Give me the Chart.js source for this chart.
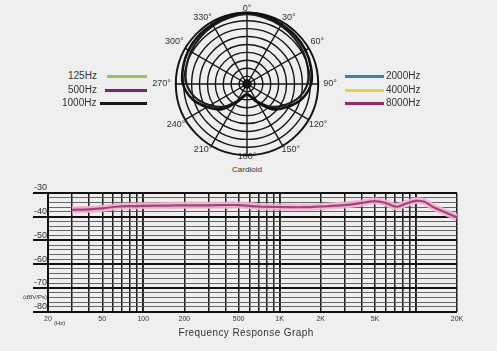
<!DOCTYPE html>
<html>
<head>
<meta charset="utf-8">
<script src="https://cdn.jsdelivr.net/npm/chart.js@4.4.0/dist/chart.umd.min.js"></script>
<style>
html, body { margin: 0; padding: 0; background: #efefef; }
#wrap { position: relative; width: 497px; height: 351px; overflow: hidden; font-family: "Liberation Sans", Arial, sans-serif; color: #333; }
#polarBox { position: absolute; left: 145px; top: 2px; width: 200px; height: 162px; }
#freqBox { position: absolute; left: 0; top: 180px; width: 497px; height: 171px; }
.txt { position: absolute; font-size: 10px; line-height: 12px; white-space: nowrap; }
.ln { position: absolute; height: 3px; }
</style>
</head>
<body>
<div id="wrap">
  <div id="polarBox"><canvas id="polar" width="200" height="162"></canvas></div>
  <div id="freqBox"><canvas id="freq" width="497" height="171"></canvas></div>

  <!-- legenda kiri -->
  <div class="txt" style="left:68px;top:70px;">125Hz</div>
  <div class="ln" style="left:107px;top:75px;width:40px;background:#93c662;box-shadow:0 0 2px #dff5c8;"></div>
  <div class="txt" style="left:68px;top:84px;">500Hz</div>
  <div class="ln" style="left:105px;top:89px;width:42px;background:#6b2f67;box-shadow:0 0 2px #f4c8ee;"></div>
  <div class="txt" style="left:62px;top:97px;">1000Hz</div>
  <div class="ln" style="left:100px;top:102px;width:47px;background:#1c1417;"></div>

  <!-- legenda kanan -->
  <div class="ln" style="left:345px;top:75px;width:39px;background:#3b8696;box-shadow:0 0 2px #c6f3fb;"></div>
  <div class="txt" style="left:386px;top:70px;">2000Hz</div>
  <div class="ln" style="left:345px;top:89px;width:39px;background:#e4cf63;box-shadow:0 0 2px #fbf1c4;"></div>
  <div class="txt" style="left:386px;top:84px;">4000Hz</div>
  <div class="ln" style="left:345px;top:102px;width:39px;background:#8e2f66;box-shadow:0 0 2px #f8c7e3;"></div>
  <div class="txt" style="left:386px;top:97px;">8000Hz</div>

  <div class="txt" style="left:227px;top:164px;font-size:8px;width:40px;text-align:center;">Cardioid</div>
  <div class="txt" style="left:54px;top:317px;font-size:6px;">(Hz)</div>
  <div class="txt" style="left:146px;top:327px;width:200px;text-align:center;letter-spacing:0.4px;">Frequency Response Graph</div>
</div>

<script>
// ==========================================
// DATA POLAR (derajat, dB)
// ==========================================

const polarAngles = [0,15,30,45,60,75,90,105,120,135,150,165,180,195,210,225,240,255,270,285,300,315,330,345];

const pattern1000 = [0,-0.5,-1.4,-1.8,-2.3,-3.2,-4.5,-9,-15.8,-22.5,-31.5,-36.9,-38.3,-36.9,-31.5,-22.5,-15.8,-9,-4.5,-3.2,-2.3,-1.8,-1.4,-0.5];

const pattern500 = [-0.9,-1.6,-2.3,-3.2,-4.1,-5.2,-6.8,-11.3,-18,-24.8,-32.4,-37.4,-38.7,-37.4,-32.4,-24.8,-18,-11.3,-6.8,-5.2,-4.1,-3.2,-2.3,-1.6];

// ==========================================
// DATA RESPON FREKUENSI
// ==========================================

const freqHz = [30,40,50,65,80,100,150,200,300,500,700,1000,1500,2000,3000,4000,5000,6000,7200,8600,10000,11500,13500,16000,20000];

const responseDb = [-37.1,-36.9,-36.5,-35.7,-35.5,-35.4,-35.3,-35.2,-35.2,-35.1,-35.7,-35.9,-36.0,-35.7,-35.1,-34.2,-33.4,-34.2,-35.8,-34.3,-33.3,-33.7,-36.0,-37.9,-40.3];

const xGridHz = [20,30,40,50,60,70,80,90,100,200,300,400,500,600,700,800,900,1000,2000,3000,4000,5000,6000,7000,8000,9000,10000,20000];

const xLabelHz = [20,50,100,200,500,1000,2000,5000,20000];
const xTickLabels = ["20","50","100","200","500","1K","2K","5K","20K"];

const FONT = "'Liberation Sans', Arial, sans-serif";

// ==========================================
// POLAR
// ==========================================

const labelPad = {0:-1,30:-1,60:2,90:5,120:0,150:-2,180:-4,210:-2,240:0,270:5,300:2,330:-1};

const centerDot = {
    id: "centerDot",
    afterDatasetsDraw(chart){
        const r = chart.scales.r;
        const c = chart.ctx;
        c.save();
        c.fillStyle = "#111";
        c.beginPath();
        c.arc(r.xCenter, r.yCenter, r.getDistanceFromCenterForValue(-42), 0, Math.PI*2);
        c.fill();
        c.restore();
    }
};

new Chart(document.getElementById("polar"), {

    type: "radar",

    data: {
        labels: polarAngles,
        datasets: [
            { label: "1000Hz", data: pattern1000, borderColor: "#111", borderWidth: 2.6, pointRadius: 0, fill: false, tension: 0.3 },
            { label: "500Hz", data: pattern500, borderColor: "#1d1d1d", borderWidth: 2.2, pointRadius: 0, fill: false, tension: 0.3 }
        ]
    },

    options: {
        responsive: false,
        animation: false,
        plugins: { legend: { display: false }, tooltip: { enabled: false } },
        scales: {
            r: {
                min: -45,
                max: 0,
                ticks: { stepSize: 5, display: false },
                grid: {
                    circular: true,
                    color: "#151515",
                    lineWidth: c => c.index === 9 ? 2 : 1.4
                },
                angleLines: {
                    color: c => c.index % 2 === 0 ? "#151515" : "rgba(0,0,0,0)",
                    lineWidth: 1.4
                },
                pointLabels: {
                    color: "#333",
                    font: { size: 9, family: FONT },
                    padding: c => {
                        const a = polarAngles[c.index];
                        return a in labelPad ? labelPad[a] : -4;
                    },
                    callback: (l, i) => i % 2 === 0 ? l + "°" : ""
                }
            }
        }
    },

    plugins: [centerDot]

});

// ==========================================
// GRAFIK RESPON FREKUENSI
// ==========================================

const points = freqHz.map((f, i) => ({ x: f, y: responseDb[i] }));

new Chart(document.getElementById("freq"), {

    type: "line",

    data: {
        datasets: [
            { label: "Response", data: points, borderColor: "#a3427b", borderWidth: 2.2, pointRadius: 0, tension: 0.35, order: 1 },
            { label: "halo", data: points, borderColor: "rgba(243,180,212,0.9)", borderWidth: 7, pointRadius: 0, tension: 0.35, order: 2 }
        ]
    },

    options: {
        responsive: false,
        animation: false,
        layout: { padding: { top: 13, right: 40, left: 0, bottom: 0 } },
        plugins: { legend: { display: false }, tooltip: { enabled: false } },
        scales: {
            x: {
                type: "logarithmic",
                min: 20,
                max: 20000,
                afterBuildTicks: s => { s.ticks = xGridHz.map(v => ({ value: v })); },
                afterFit: s => { s.height = 39.5; },
                grid: {
                    color: "#1a1a1a",
                    lineWidth: c => (c.tick && [100,1000,10000].includes(c.tick.value)) ? 1.9 : 1.5,
                    drawTicks: false
                },
                border: { display: false },
                ticks: {
                    autoSkip: false,
                    maxRotation: 0,
                    padding: 3,
                    color: "#333",
                    font: { size: 7, family: FONT },
                    callback: v => {
                        const i = xLabelHz.indexOf(v);
                        return i >= 0 ? xTickLabels[i] : "";
                    }
                }
            },
            y: {
                min: -80,
                max: -30,
                afterFit: s => { s.width = 48; },
                grid: {
                    color: c => (c.tick && c.tick.value % 10 === 0) ? "#111" : "#555",
                    lineWidth: c => (c.tick && c.tick.value % 10 === 0) ? 2 : 0.9,
                    tickColor: c => (c.tick && c.tick.value % 10 === 0) ? "#111" : "rgba(0,0,0,0)",
                    tickLength: 15
                },
                border: { display: true, color: "#111", width: 2 },
                ticks: {
                    stepSize: 2,
                    autoSkip: false,
                    padding: -14,
                    labelOffset: -5,
                    color: "#333",
                    font: c => (c.tick && c.tick.value === -76) ? { size: 6, family: FONT } : { size: 9, family: FONT },
                    callback: v => v % 10 === 0 ? String(v) : (v === -76 ? "(dBV/Ps)" : "")
                }
            }
        }
    }

});
</script>
</body>
</html>
